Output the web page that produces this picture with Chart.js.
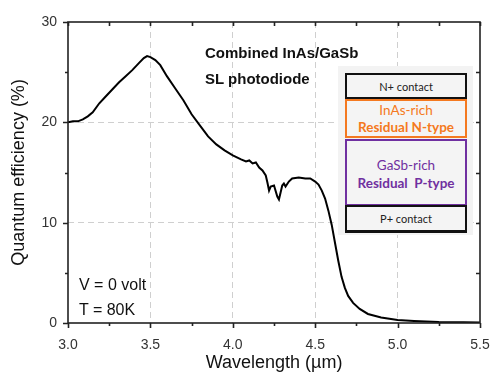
<!DOCTYPE html>
<html>
<head>
<meta charset="utf-8">
<script src="https://cdn.jsdelivr.net/npm/chart.js@4.4.1/dist/chart.umd.min.js"></script>
<style>
  html, body { margin: 0; padding: 0; background: #fff; }
  #wrap { position: relative; width: 500px; height: 386px; }
  .ann { position: absolute; font-family: "Liberation Sans", Arial, sans-serif; color: #111; white-space: nowrap; }
  .panel { position: absolute; left: 338px; top: 66px; width: 135px; height: 169px; background: #f3f3f3; }
  .box { position: absolute; box-sizing: border-box; background: #f4f4f4; text-align: center; font-family: Lato, "Open Sans", sans-serif; white-space: nowrap; }
</style>
</head>
<body>
<div id="wrap">
  <canvas id="c" width="500" height="386"></canvas>
  <div class="ann" style="left:205px; top:40px; font-size:15px; font-weight:bold; line-height:26px;">Combined InAs/GaSb<br>SL photodiode</div>
  <div class="ann" style="left:79px; top:272px; font-size:16px; line-height:25px;">V = 0 volt<br>T = 80K</div>
  <div class="panel"></div>
  <div class="box" style="left:345px; top:73px; width:122px; height:27px; border:2px solid #111; border-bottom-width:3px; font-size:11px; line-height:23px; color:#222;">N+ contact</div>
  <div class="box" style="left:345px; top:99px; width:122px; height:39px; border:2.5px solid #f47920; color:#f47920; font-size:13.5px; line-height:17px; padding-top:1px;">InAs-rich<br><b>Residual N-type</b></div>
  <div class="box" style="left:345px; top:139px; width:122px; height:67px; border:2.5px solid #7030a0; color:#7030a0; font-size:13.5px; line-height:18px; padding-top:15px;">GaSb-rich<br><b>Residual&nbsp; P-type</b></div>
  <div class="box" style="left:345px; top:205px; width:122px; height:28px; border:2px solid #111; border-bottom-width:3px; font-size:11px; line-height:23px; color:#222;">P+ contact</div>
</div>
<script>
const wavelength = [3.00,3.03,3.06,3.09,3.12,3.15,3.19,3.23,3.27,3.31,3.35,3.39,3.43,3.46,3.48,3.50,3.53,3.56,3.60,3.65,3.70,3.75,3.80,3.85,3.90,3.95,4.00,4.05,4.08,4.10,4.12,4.14,4.16,4.18,4.20,4.21,4.22,4.23,4.25,4.27,4.28,4.29,4.30,4.31,4.32,4.34,4.36,4.40,4.44,4.47,4.50,4.52,4.54,4.56,4.58,4.60,4.62,4.64,4.66,4.68,4.70,4.73,4.77,4.82,4.90,5.00,5.10,5.25,5.40,5.50];
const quantumEff = [20.0,20.1,20.1,20.3,20.6,21.0,21.9,22.6,23.3,24.0,24.6,25.2,25.9,26.4,26.6,26.5,26.2,25.7,24.6,23.4,22.2,20.8,19.7,18.6,17.8,17.2,16.7,16.3,16.1,16.2,15.9,16.0,15.5,15.2,14.7,14.0,13.2,13.6,13.7,12.6,12.3,13.0,13.7,13.9,13.6,14.1,14.4,14.5,14.4,14.4,14.1,13.8,13.2,12.4,11.2,9.8,8.0,6.2,4.6,3.5,2.7,2.0,1.4,0.9,0.55,0.3,0.2,0.1,0.07,0.05];
const xMajorTicks = [3.0,3.5,4.0,4.5,5.0,5.5];
const xMinorTicks = [3.25,3.75,4.25,4.75,5.25];
const yMajorTicks = [0,10,20,30];
const yMinorTicks = [5,15,25];

const frameAndTicks = {
  id: 'frameAndTicks',
  afterDatasetsDraw(chart) {
    const ctx = chart.ctx, a = chart.chartArea;
    const xs = chart.scales.x, ys = chart.scales.y;
    ctx.save();
    ctx.strokeStyle = '#222';
    ctx.lineWidth = 1.6;
    ctx.strokeRect(a.left, a.top, a.right - a.left, a.bottom - a.top);
    ctx.beginPath();
    const tx = (v, len, inTop) => {
      const p = Math.round(xs.getPixelForValue(v)) + 0.5;
      ctx.moveTo(p, a.bottom); ctx.lineTo(p, a.bottom + len);
      ctx.moveTo(p, a.top); ctx.lineTo(p, a.top + inTop);
    };
    xMajorTicks.forEach(v => tx(v, 5, 4));
    xMinorTicks.forEach(v => tx(v, 3, 4));
    const ty = (v, len, inRight) => {
      const p = Math.round(ys.getPixelForValue(v)) + 0.5;
      ctx.moveTo(a.left, p); ctx.lineTo(a.left - len, p);
      if (inRight) { ctx.moveTo(a.right, p); ctx.lineTo(a.right - inRight, p); }
    };
    yMajorTicks.forEach(v => ty(v, 5, (v > 0 && v < 30) ? 4 : 0));
    yMinorTicks.forEach(v => ty(v, 3, 4));
    ctx.stroke();
    ctx.restore();
  }
};

new Chart(document.getElementById('c'), {
  type: 'line',
  data: {
    datasets: [{
      data: wavelength.map((w, i) => ({ x: w, y: quantumEff[i] })),
      borderColor: '#000',
      borderWidth: 2,
      pointRadius: 0,
      tension: 0,
      fill: false
    }]
  },
  options: {
    responsive: false,
    animation: false,
    layout: { padding: { top: 22, right: 20, left: 0, bottom: 0 } },
    plugins: { legend: { display: false }, tooltip: { enabled: false } },
    scales: {
      x: {
        type: 'linear', min: 3.0, max: 5.5,
        afterBuildTicks: s => { s.ticks = xMajorTicks.map(v => ({ value: v })); },
        afterFit: s => { s.height = 63; },
        ticks: { callback: v => v.toFixed(1), font: { family: 'Liberation Sans', size: 14 }, color: '#333', padding: 8, maxRotation: 0 },
        grid: { color: c => (c.tick && c.tick.value > 3.0 && c.tick.value < 5.5) ? '#cfcfcf' : 'transparent', lineWidth: 1, drawTicks: true, tickLength: 6, tickColor: 'transparent' },
        border: { display: false, dash: [6, 4] },
        title: { display: true, text: 'Wavelength (µm)', font: { family: 'Liberation Sans', size: 18 }, color: '#111', padding: { top: 2, bottom: 12 } }
      },
      y: {
        min: 0, max: 30,
        afterBuildTicks: s => { s.ticks = yMajorTicks.map(v => ({ value: v })); },
        afterFit: s => { s.width = 68; },
        ticks: { font: { family: 'Liberation Sans', size: 14 }, color: '#333', padding: 5 },
        grid: { color: c => (c.tick && c.tick.value > 0 && c.tick.value < 30) ? '#cfcfcf' : 'transparent', lineWidth: 1, drawTicks: true, tickLength: 6, tickColor: 'transparent' },
        border: { display: false, dash: [6, 4] },
        title: { display: true, text: 'Quantum efficiency (%)', font: { family: 'Liberation Sans', size: 18 }, color: '#111', padding: { top: 8, bottom: 0 } }
      }
    }
  },
  plugins: [frameAndTicks]
});
</script>
</body>
</html>
